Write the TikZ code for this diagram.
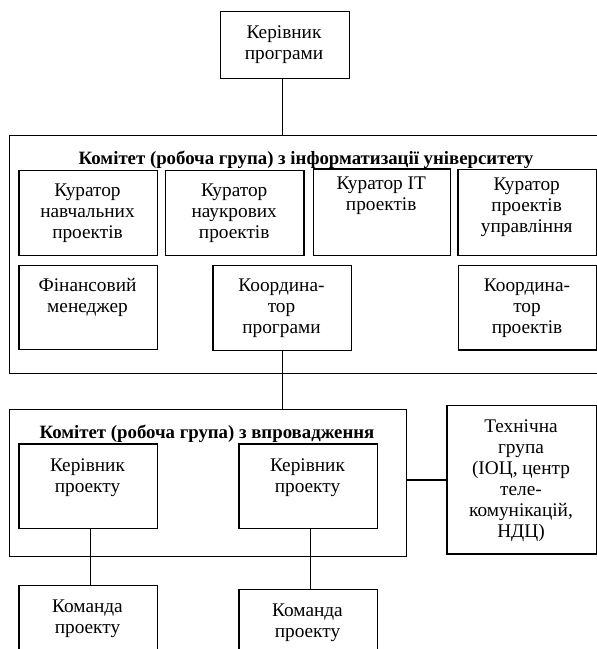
\documentclass[tikz,border=0pt]{standalone}
\usepackage{fontspec}
\setmainfont{Liberation Serif}
\begin{document}
\begin{tikzpicture}[x=1pt,y=-1pt,
  inbox/.style={draw, line width=1.4pt, inner sep=0pt, anchor=north west},
  outbox/.style={draw, line width=1pt, inner sep=0pt, anchor=north west},
  lbl/.style={align=center, anchor=north, inner sep=0pt, yshift=15pt,
    execute at begin node={\rule{0pt}{15pt}}, font=\fontsize{19.3}{21}\selectfont},
  ttl/.style={anchor=base, inner sep=0pt, font=\fontsize{18.8}{21}\selectfont\bfseries},
  conn/.style={line width=1.4pt}]
\useasboundingbox (0,0) rectangle (597,649);

% top box
\node[inbox, minimum width=129pt, minimum height=67pt] (top) at (219.5,11) {};
\node[lbl] (topt) at (284,41) {Керівник\\програми};

% outer box 1
\node[outbox, minimum width=601pt, minimum height=238.3pt] (o1) at (9.3,134.7) {};
\node[ttl] (o1t) at (306,164) {Комітет (робоча група) з інформатизації університету};

% row 1
\node[inbox, minimum width=138.4pt, minimum height=85pt] (c1) at (18.3,170) {};
\node[lbl] (c1t) at (87.5,198.5) {Куратор\\навчальних\\проектів};
\node[inbox, minimum width=138.3pt, minimum height=85pt] (c2) at (165,170) {};
\node[lbl] (c2t) at (234.2,198.5) {Куратор\\наукрових\\проектів};
\node[inbox, minimum width=137.5pt, minimum height=86.7pt] (c3) at (312.5,168.3) {};
\node[lbl] (c3t) at (381.2,191.5) {Куратор IT\\проектів};
\node[inbox, minimum width=138.7pt, minimum height=86pt] (c4) at (457.3,169) {};
\node[lbl] (c4t) at (526.7,192.5) {Куратор\\проектів\\управління};

% row 2
\node[inbox, minimum width=138.4pt, minimum height=84.3pt] (fm) at (18.3,264.7) {};
\node[lbl] (fmt) at (87.5,293.5) {Фінансовий\\менеджер};
\node[inbox, minimum width=138.4pt, minimum height=85.3pt] (cp) at (212.3,264.7) {};
\node[lbl] (cpt) at (281.5,293.5) {Координа-\\тор\\програми};
\node[inbox, minimum width=138pt, minimum height=84.3pt] (cj) at (458,265) {};
\node[lbl] (cjt) at (527,293.5) {Координа-\\тор\\проектів};

% outer box 2
\node[outbox, minimum width=396.7pt, minimum height=147.5pt] (o2) at (9.3,408.5) {};
\node[ttl] (o2t) at (207,438) {Комітет (робоча група) з впровадження};

\node[inbox, minimum width=138.4pt, minimum height=84.4pt] (k1) at (18.3,443.3) {};
\node[lbl] (k1t) at (87.5,473.5) {Керівник\\проекту};
\node[inbox, minimum width=138.4pt, minimum height=84.4pt] (k2) at (238.3,443.3) {};
\node[lbl] (k2t) at (307.5,473.5) {Керівник\\проекту};

% technical group
\node[inbox, minimum width=149.7pt, minimum height=148.3pt] (tg) at (446.3,405) {};
\node[lbl] (tgt) at (521,434.5) {Технічна\\група\\(ІОЦ, центр\\теле-\\комунікацій,\\НДЦ)};

% teams
\node[inbox, minimum width=138.4pt, minimum height=80pt] (m1) at (18.3,585) {};
\node[lbl] (m1t) at (87.5,615) {Команда\\проекту};
\node[inbox, minimum width=138.4pt, minimum height=80pt] (m2) at (238.3,589) {};
\node[lbl] (m2t) at (307.5,618.5) {Команда\\проекту};

% connectors
\draw[conn] ([xshift=-2pt]top.south) -- ([xshift=-2pt]top.south |- o1.north);
\draw[conn] (cp.south) -- (cp.south |- o2.north);
\draw[conn] ([xshift=2.5pt]k1.south) -- ([xshift=2.5pt]m1.north);
\draw[conn] ([xshift=2.5pt]k2.south) -- ([xshift=2.5pt]m2.north);
\draw[conn] (tg.west) -- (tg.west -| o2.east);
\end{tikzpicture}
\end{document}
